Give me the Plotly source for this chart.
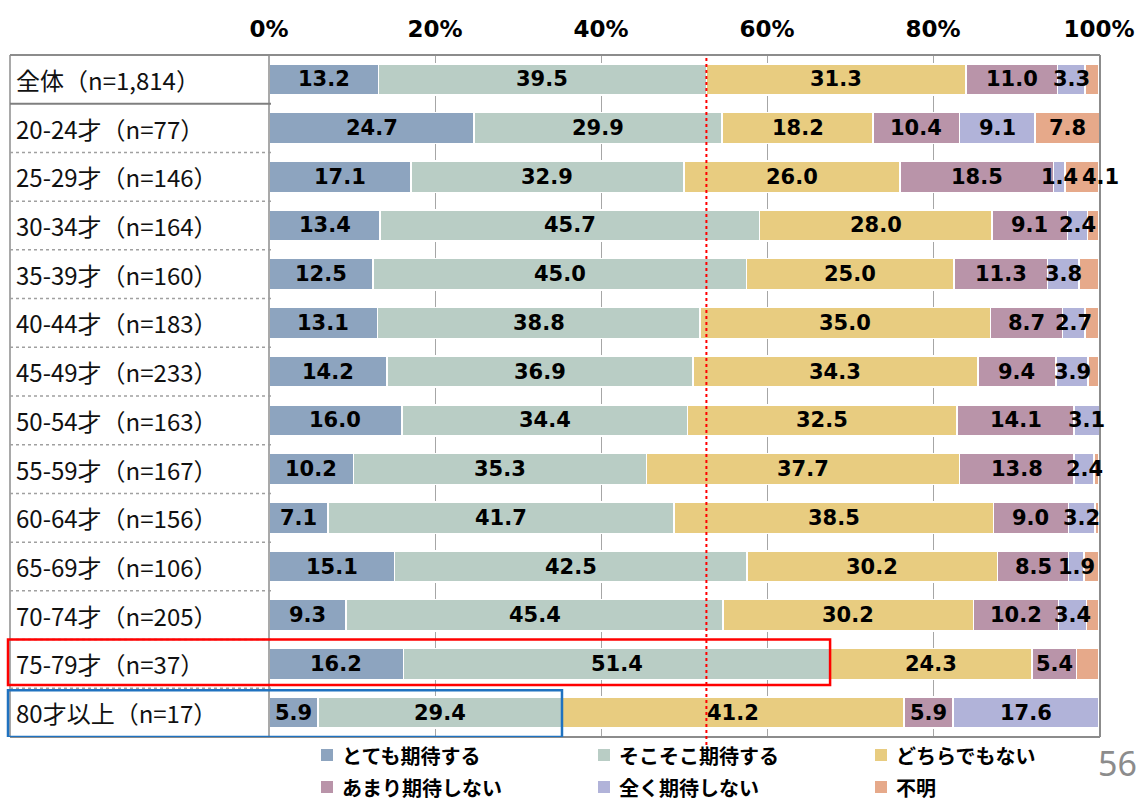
import plotly.graph_objects as go

# Row labels (age groups with sample sizes)
rows = ["全体（n=1,814）", "20-24才（n=77）", "25-29才（n=146）", "30-34才（n=164）",
        "35-39才（n=160）", "40-44才（n=183）", "45-49才（n=233）", "50-54才（n=163）",
        "55-59才（n=167）", "60-64才（n=156）", "65-69才（n=106）", "70-74才（n=205）",
        "75-79才（n=37）", "80才以上（n=17）"]

series_names = ["とても期待する", "そこそこ期待する", "どちらでもない",
                "あまり期待しない", "全く期待しない", "不明"]

very_much = [13.2, 24.7, 17.1, 13.4, 12.5, 13.1, 14.2, 16.0, 10.2, 7.1, 15.1, 9.3, 16.2, 5.9]
somewhat = [39.5, 29.9, 32.9, 45.7, 45.0, 38.8, 36.9, 34.4, 35.3, 41.7, 42.5, 45.4, 51.4, 29.4]
neutral = [31.3, 18.2, 26.0, 28.0, 25.0, 35.0, 34.3, 32.5, 37.7, 38.5, 30.2, 30.2, 24.3, 41.2]
not_much = [11.0, 10.4, 18.5, 9.1, 11.3, 8.7, 9.4, 14.1, 13.8, 9.0, 8.5, 10.2, 5.4, 5.9]
not_at_all = [3.3, 9.1, 1.4, 2.4, 3.8, 2.7, 3.9, 3.1, 2.4, 3.2, 1.9, 3.4, 0.0, 17.6]
unknown = [1.7, 7.8, 4.1, 1.4, 2.4, 1.7, 1.3, 0.0, 0.6, 0.5, 1.8, 1.5, 2.7, 0.0]

x_ticks = [0, 20, 40, 60, 80, 100]
x_tick_text = ["0%", "20%", "40%", "60%", "80%", "100%"]

colors = ["#8DA4BF", "#B9CDC5", "#E8CC80", "#B994A9", "#B1B3D9", "#E6A98A"]

W, H = 1140, 801
X0_PX, X1_PX = 269, 1099
Y_TOP_PX, Y_BOT_PX = 55, 737
dom_x = [X0_PX / W, X1_PX / W]
dom_y = [1 - Y_BOT_PX / H, 1 - Y_TOP_PX / H]


def px_x(p):
    return p / W


def px_y(p):
    return 1 - p / H


def to_paper_x(v):
    return dom_x[0] + v / 100 * (dom_x[1] - dom_x[0])


all_series = [very_much, somewhat, neutral, not_much, not_at_all, unknown]
label_font = dict(family="DejaVu Sans", size=21, color="black", weight="bold")

fig = go.Figure()
for i, (name, vals) in enumerate(zip(series_names, all_series)):
    fig.add_trace(go.Bar(
        y=rows, x=vals, name=name, orientation="h",
        marker=dict(color=colors[i], line=dict(color="white", width=1.5)),
        showlegend=False, width=0.64, hoverinfo="x+name",
    ))

n = len(rows)
fig.update_layout(
    width=W, height=H, barmode="stack",
    margin=dict(l=0, r=0, t=0, b=0, autoexpand=False),
    paper_bgcolor="white", plot_bgcolor="white",
    xaxis=dict(domain=dom_x, range=[0, 100], side="top", tickmode="array",
               tickvals=x_ticks, ticktext=x_tick_text, automargin=False,
               showgrid=True, gridcolor="#A6A6A6", gridwidth=1,
               zeroline=False, showline=False, ticks="",
               tickfont=dict(family="DejaVu Sans", size=23, color="black", weight="bold"),
               ticklabelstandoff=12),
    yaxis=dict(domain=dom_y, categoryorder="array", categoryarray=rows, automargin=False,
               range=[n - 0.5, -0.5], showticklabels=False, showgrid=False,
               zeroline=False, showline=False, ticks=""),
)

shapes = []
annotations = []
border = dict(color="#8C8C8C", width=2)

# value labels, drawn above every segment and centred on it
for i, vals in enumerate(all_series):
    for r, row in enumerate(rows):
        v = vals[r]
        start = sum(s[r] for s in all_series[:i])
        if i < 5:
            show = v > 0
        else:
            show = v >= 4
        if not show:
            continue
        shift = 19 if (i == 5 and v < 5) else 0
        annotations.append(dict(x=start + v / 2, y=row, xref="x", yref="y",
                                text=f"{v:.1f}", showarrow=False, xshift=shift,
                                xanchor="center", yanchor="middle", font=label_font))

# outer frame of the table + plot area
shapes.append(dict(type="line", xref="paper", yref="paper", x0=px_x(10), x1=px_x(1100),
                   y0=dom_y[1], y1=dom_y[1], line=border))
shapes.append(dict(type="line", xref="paper", yref="paper", x0=px_x(10), x1=px_x(1100),
                   y0=dom_y[0], y1=dom_y[0], line=border))
shapes.append(dict(type="line", xref="paper", yref="paper", x0=px_x(10), x1=px_x(10),
                   y0=dom_y[0], y1=dom_y[1], line=dict(color="#8C8C8C", width=1.5)))
shapes.append(dict(type="line", xref="paper", yref="paper", x0=dom_x[0], x1=dom_x[0],
                   y0=dom_y[0], y1=dom_y[1], line=dict(color="#8C8C8C", width=1.5)))
shapes.append(dict(type="line", xref="paper", yref="paper", x0=px_x(1100), x1=px_x(1100),
                   y0=dom_y[0], y1=dom_y[1], line=border))

# row separators in the label column
for k in range(1, n):
    dash = "solid" if k == 1 else "dot"
    shapes.append(dict(type="line", xref="paper", yref="y", x0=px_x(10), x1=px_x(271),
                       y0=k - 0.5, y1=k - 0.5,
                       line=dict(color="#7F7F7F" if k == 1 else "#A0A0A0",
                                 width=2 if k == 1 else 1.5, dash=dash)))

# row labels
for r in rows:
    annotations.append(dict(x=px_x(14), y=r, xref="paper", yref="y", text=r,
                            showarrow=False, xanchor="left", yanchor="middle",
                            font=dict(family="Noto Sans CJK JP", size=24, color="#111111")))

# reference line: overall share of "expecting" answers
overall_expect = very_much[0] + somewhat[0]
shapes.append(dict(type="line", xref="x", yref="paper", x0=overall_expect, x1=overall_expect,
                   y0=px_y(745), y1=dom_y[1], line=dict(color="#FF0000", width=2, dash="dot")))

# highlight boxes around the two oldest groups
i75 = 12
shapes.append(dict(type="rect", xref="paper", yref="y", x0=px_x(8),
                   x1=to_paper_x(very_much[i75] + somewhat[i75]),
                   y0=i75 - 0.5, y1=i75 + 0.43, line=dict(color="#FF0000", width=2.5)))
i80 = 13
shapes.append(dict(type="rect", xref="paper", yref="y", x0=px_x(8),
                   x1=to_paper_x(very_much[i80] + somewhat[i80]),
                   y0=i80 - 0.46, y1=i80 + 0.5, line=dict(color="#1F72C0", width=2.5)))

# legend (2 rows x 3 columns)
leg_cols = [321, 598, 875]
leg_rows = [755, 787]
for i, name in enumerate(series_names):
    cx = leg_cols[i % 3]
    cy = leg_rows[i // 3]
    shapes.append(dict(type="rect", xref="paper", yref="paper", x0=px_x(cx), x1=px_x(cx + 12),
                       y0=px_y(cy + 6), y1=px_y(cy - 6), fillcolor=colors[i],
                       line=dict(width=0)))
    annotations.append(dict(x=px_x(cx + 19), y=px_y(cy), xref="paper", yref="paper",
                            text=name, showarrow=False, xanchor="left", yanchor="middle",
                            font=dict(family="Noto Sans CJK JP", size=20, color="black",
                                      weight="bold")))

# page number
annotations.append(dict(x=px_x(1139), y=px_y(763), xref="paper", yref="paper", text="56",
                        showarrow=False, xanchor="right", yanchor="middle",
                        font=dict(family="Noto Sans", size=34, color="#8C8C8C")))

fig.update_layout(shapes=shapes, annotations=annotations)
fig.write_html("out.html")
